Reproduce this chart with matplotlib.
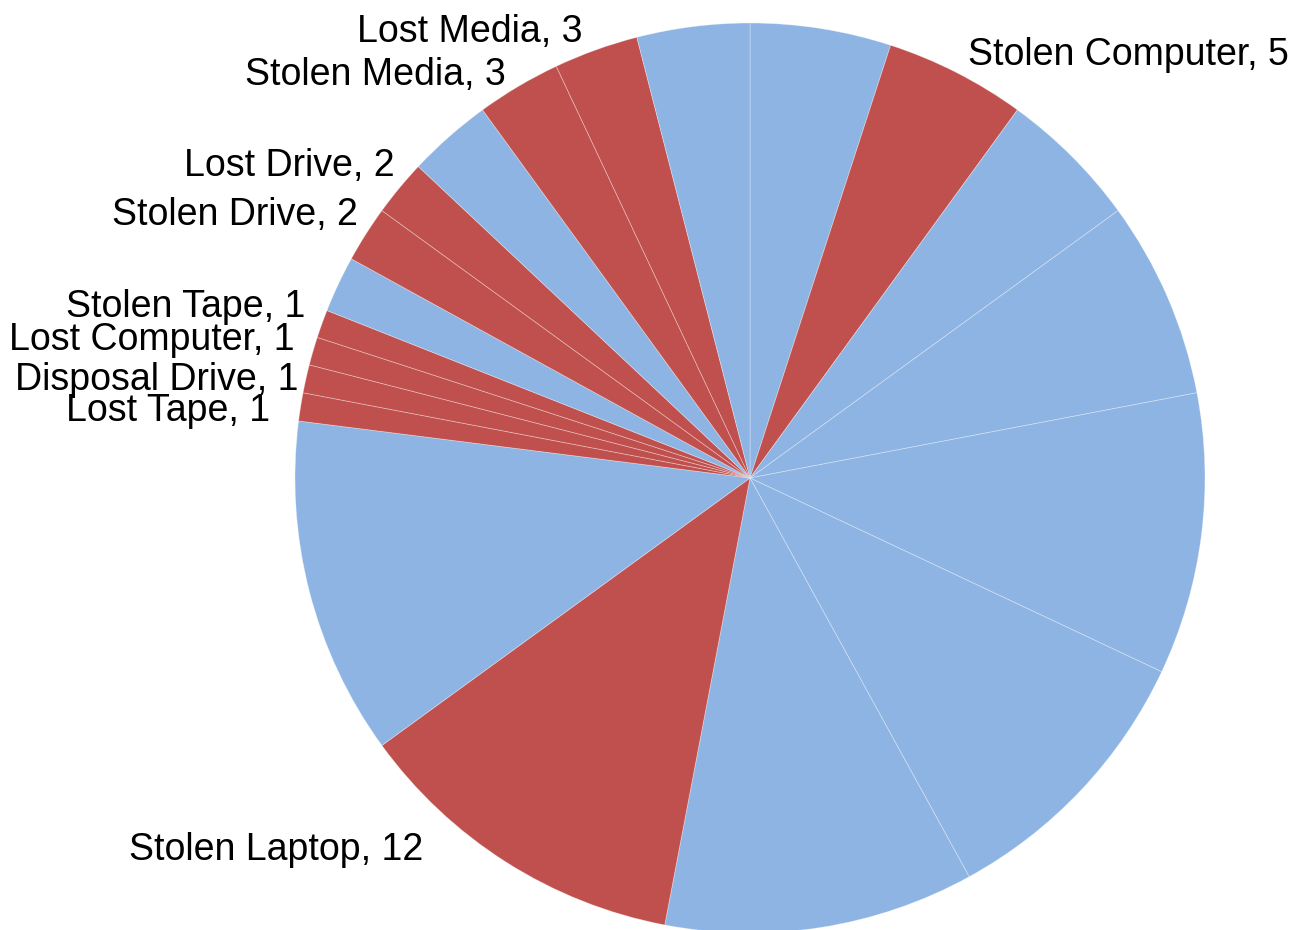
import matplotlib
matplotlib.use("Agg")
import matplotlib.pyplot as plt
import numpy as np

plt.rcParams['font.family'] = ['Liberation Sans', 'DejaVu Sans']

# slices clockwise from 12 o'clock; blue ones carry no label
labels = ['', 'Stolen Computer', '', '', '', '', '', 'Stolen Laptop', '',
          'Lost Tape', 'Disposal Drive', 'Lost Computer', 'Stolen Tape', '',
          'Stolen Drive', 'Lost Drive', '', 'Stolen Media', 'Lost Media', '']
values = [5, 5, 5, 7, 10, 10, 11, 12, 12,
          1, 1, 1, 1, 2,
          2, 2, 3, 3, 3, 4]
labelled = [lab != '' for lab in labels]

BLUE = '#8EB4E3'
RED = '#C0504D'
colors = [RED if f else BLUE for f in labelled]

# small nudges (data units) so the crowded labels sit like the original
nudge = {
    'Stolen Computer': (0.0, -0.011),
    'Stolen Laptop': (-0.152, 0.074),
    'Lost Media': (-0.01, -0.013),
    'Stolen Media': (0.0, -0.022),
    'Lost Drive': (0.031, 0.013),
    'Stolen Drive': (0.029, 0.013),
    'Stolen Tape': (0.015, 0.019),
    'Lost Computer': (0.013, 0.009),
    'Disposal Drive': (0.037, -0.014),
    'Lost Tape': (-0.013, -0.018),
}

fig = plt.figure(figsize=(12.93, 9.30), dpi=100)
ax = fig.add_axes([(750 - 455) / 1293, (452 - 455) / 930, 910 / 1293, 910 / 930])

texts_in = [f'{lab}, {v}' if lab else '' for lab, v in zip(labels, values)]
wedges, texts = ax.pie(values, labels=texts_in, colors=colors, startangle=90,
                       counterclock=False, labeldistance=1.055, radius=1,
                       wedgeprops=dict(edgecolor=(1, 1, 1, 0.35), linewidth=0.6),
                       textprops=dict(fontsize=27, color='black'))

for t, lab in zip(texts, labels):
    t.set_clip_on(False)
    if lab in nudge:
        x, y = t.get_position()
        dx, dy = nudge[lab]
        t.set_position((x + dx, y + dy))

ax.set_xlim(-1, 1)
ax.set_ylim(-1, 1)
ax.set_aspect('equal')
ax.axis('off')

fig.savefig('out.png', dpi=100)
